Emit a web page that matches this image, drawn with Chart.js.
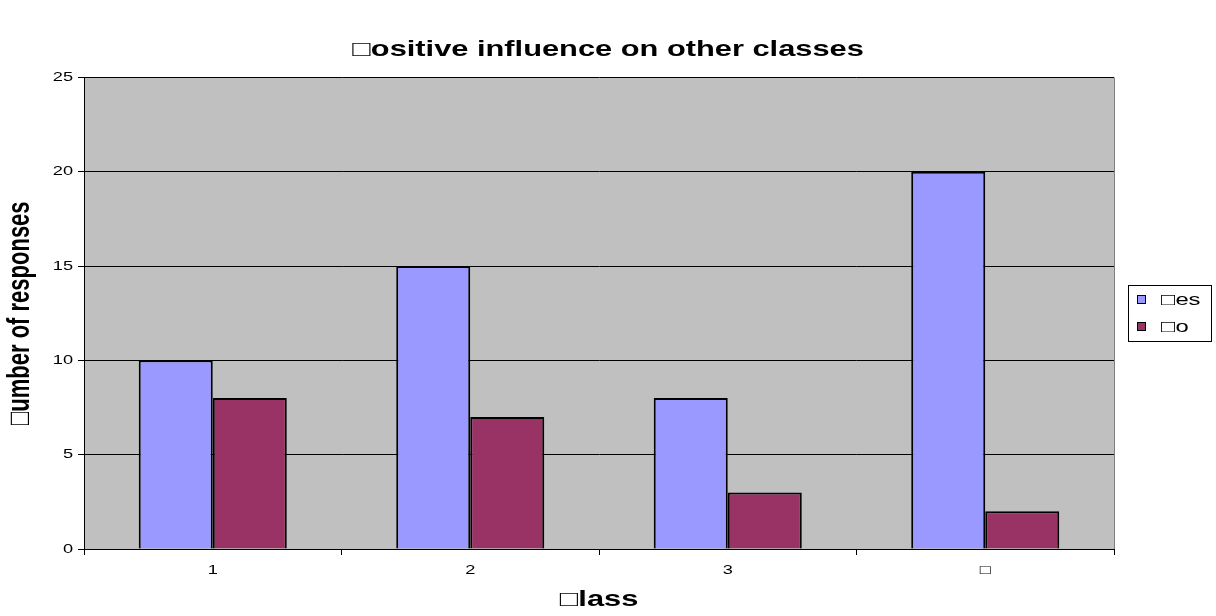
<!DOCTYPE html>
<html>
<head>
<meta charset="utf-8">
<script src="https://cdn.jsdelivr.net/npm/chart.js@4/dist/chart.umd.min.js"></script>
<style>
html,body{margin:0;padding:0;background:#fff;}
#wrap{width:1216px;height:616px;}
</style>
</head>
<body>
<div id="wrap"><canvas id="c" width="1216" height="616"></canvas></div>
<script>
const categories = ['1', '2', '3', '\u25A1'];
const yesValues = [10, 15, 8, 20];
const noValues = [8, 7, 3, 2];
const seriesLabels = ['\u25A1es', '\u25A1o'];
const yTicks = [0, 5, 10, 15, 20, 25];

const FONT = '"Liberation Sans", Arial, sans-serif';
const TEXT_STRETCH = 1.4; // reference text is widened horizontally on screen

const canvas = document.getElementById('c');
const ctx = canvas.getContext('2d');
// widen text horizontally (screen x) around its anchor point
const origFillText = ctx.fillText.bind(ctx);
ctx.fillText = function (text, x, y, maxWidth) {
  const m = this.getTransform();
  const p = m.transformPoint(new DOMPoint(x, y));
  const n = new DOMMatrix().translate(p.x, p.y).scale(TEXT_STRETCH, 1).translate(-p.x, -p.y).multiply(m);
  this.save();
  this.setTransform(n);
  origFillText(text, x, y);
  this.restore();
};

const plotBg = {
  id: 'plotBg',
  beforeDraw(chart) {
    const {ctx, chartArea: a} = chart;
    ctx.save();
    ctx.fillStyle = '#C0C0C0';
    ctx.fillRect(a.left, a.top, a.right - a.left, a.bottom - a.top);
    ctx.restore();
  },
  afterDatasetsDraw(chart) {
    const {ctx, chartArea: a} = chart;
    ctx.save();
    ctx.strokeStyle = '#808080';
    ctx.lineWidth = 1;
    ctx.beginPath();
    ctx.moveTo(a.right + 0.5, a.top);
    ctx.lineTo(a.right + 0.5, a.bottom);
    ctx.stroke();
    ctx.restore();
  }
};

const boxLegend = {
  id: 'boxLegend',
  afterDraw(chart) {
    const ctx = chart.ctx;
    const x = 1128, y = 285, w = 83, h = 56;
    ctx.save();
    ctx.fillStyle = '#fff';
    ctx.fillRect(x, y, w, h);
    ctx.strokeStyle = '#000';
    ctx.lineWidth = 1;
    ctx.strokeRect(x + 0.5, y + 0.5, w, h);
    ctx.font = '17px ' + FONT;
    ctx.textBaseline = 'middle';
    ctx.textAlign = 'left';
    chart.data.datasets.forEach((ds, i) => {
      const cy = 299 + i * 27;
      ctx.fillStyle = ds.backgroundColor;
      ctx.fillRect(1137, cy - 4, 9, 8);
      ctx.strokeStyle = '#000';
      ctx.strokeRect(1137.5, cy - 3.5, 8, 8);
      ctx.fillStyle = '#000';
      ctx.fillText(ds.label, 1161, cy + 1);
    });
    ctx.restore();
  }
};

new Chart(ctx, {
  type: 'bar',
  data: {
    labels: categories,
    datasets: [
      {label: seriesLabels[0], data: yesValues, backgroundColor: '#9999FF', borderColor: '#000', borderWidth: 2},
      {label: seriesLabels[1], data: noValues, backgroundColor: '#993366', borderColor: '#000', borderWidth: 2}
    ]
  },
  options: {
    responsive: false,
    animation: false,
    layout: {padding: 0},
    datasets: {bar: {categoryPercentage: 0.575, barPercentage: 1.0}},
    plugins: {
      legend: {display: false},
      tooltip: {enabled: false},
      title: {
        display: true,
        text: '\u25A1ositive influence on other classes',
        color: '#000',
        font: {family: FONT, size: 22, weight: 'bold', lineHeight: 1.2},
        padding: {top: 37, bottom: 14}
      }
    },
    scales: {
      x: {
        afterFit(s) { s.height = 67; },
        grid: {display: true, drawOnChartArea: false, drawTicks: true, tickLength: 6, color: '#000', offset: true},
        border: {display: true, color: '#000', width: 1},
        ticks: {color: '#000', font: {family: FONT, size: 13}, padding: 8, maxRotation: 0},
        title: {
          display: true, text: '\u25A1lass', color: '#000',
          font: {family: FONT, size: 22, weight: 'bold', lineHeight: 1.2},
          padding: {top: 0, bottom: 3}
        }
      },
      y: {
        min: 0, max: 25,
        afterFit(s) { s.width = 84; },
        afterBuildTicks(s) { s.ticks = yTicks.map(v => ({value: v})); },
        grid: {color: '#000', lineWidth: 1, tickLength: 6, drawTicks: true},
        border: {display: true, color: '#000', width: 1},
        ticks: {color: '#000', font: {family: FONT, size: 13}, padding: 5},
        title: {
          display: true, text: '\u25A1umber of responses', color: '#000',
          font: {family: FONT, size: 22, weight: 'bold', lineHeight: 1.2},
          padding: {top: 7, bottom: 0}
        }
      },
      legendSpace: {
        type: 'linear',
        position: 'right',
        display: true,
        afterFit(s) { s.width = 102; },
        grid: {display: false},
        border: {display: false},
        ticks: {display: false}
      }
    }
  },
  plugins: [plotBg, boxLegend]
});
</script>
</body>
</html>
